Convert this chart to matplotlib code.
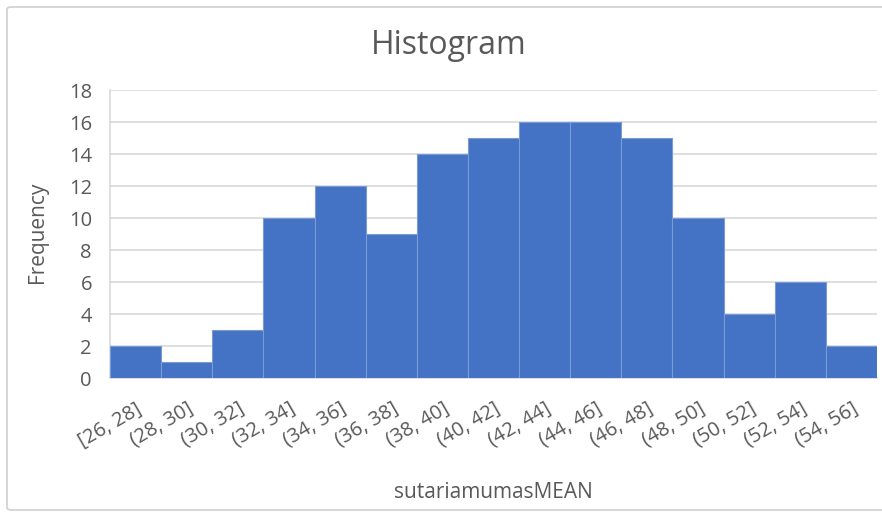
import matplotlib
matplotlib.use("Agg")
import matplotlib.pyplot as plt
from matplotlib.patches import FancyBboxPatch

categories = ["[26, 28]", "(28, 30]", "(30, 32]", "(32, 34]", "(34, 36]", "(36, 38]",
              "(38, 40]", "(40, 42]", "(42, 44]", "(44, 46]", "(46, 48]", "(48, 50]",
              "(50, 52]", "(52, 54]", "(54, 56]"]
frequency = [2, 1, 3, 10, 12, 9, 14, 15, 16, 16, 15, 10, 4, 6, 2]
yticks = [0, 2, 4, 6, 8, 10, 12, 14, 16, 18]

plt.rcParams['font.family'] = ['Open Sans', 'DejaVu Sans']
txt = '#595959'
grid = '#D9D9D9'

fig = plt.figure(figsize=(8.82, 5.16), dpi=100)
fig.patches.append(FancyBboxPatch((7/882, 6/516), 1 - 14/882 + 0.02, 1 - 13/516,
                                  boxstyle="round,pad=0,rounding_size=0.005",
                                  transform=fig.transFigure, fill=False,
                                  edgecolor='#D0D0D0', linewidth=1.2))
ax = fig.add_axes([110/882, (516-378)/516, (877-110)/882, (378-90)/516])

x = range(len(categories))
ax.bar(x, frequency, width=1.0, color='#4472C4', edgecolor='#7A9BD6', linewidth=0.8, zorder=3)
ax.set_xlim(-0.5, len(categories) - 0.5)
ax.set_ylim(0, 18)
ax.set_yticks(yticks)
ax.yaxis.grid(True, color=grid, linewidth=1.2, zorder=0)
ax.set_xticks(list(x))
ax.set_xticklabels(categories, rotation=30, ha='right', rotation_mode='anchor',
                   fontsize=14.5, color=txt)
ax.tick_params(axis='y', labelsize=14.5, labelcolor=txt, length=0, pad=13)
ax.tick_params(axis='x', length=0, pad=15)
for s in ['top', 'right']:
    ax.spines[s].set_visible(False)
ax.spines['left'].set_color(grid)
ax.spines['left'].set_linewidth(1.2)
ax.spines['bottom'].set_color(grid)
ax.spines['bottom'].set_linewidth(1.2)

fig.text(37/882, 1 - 232/516, 'Frequency', fontsize=15, color=txt,
         ha='center', va='center', rotation=90)
fig.text(449/882, 1 - 45/516, 'Histogram', fontsize=23, color=txt,
         ha='center', va='center')
fig.text(493/882, 1 - 492/516, 'sutariamumasMEAN', fontsize=15, color=txt,
         ha='center', va='center')

fig.savefig('out.png', dpi=100)
